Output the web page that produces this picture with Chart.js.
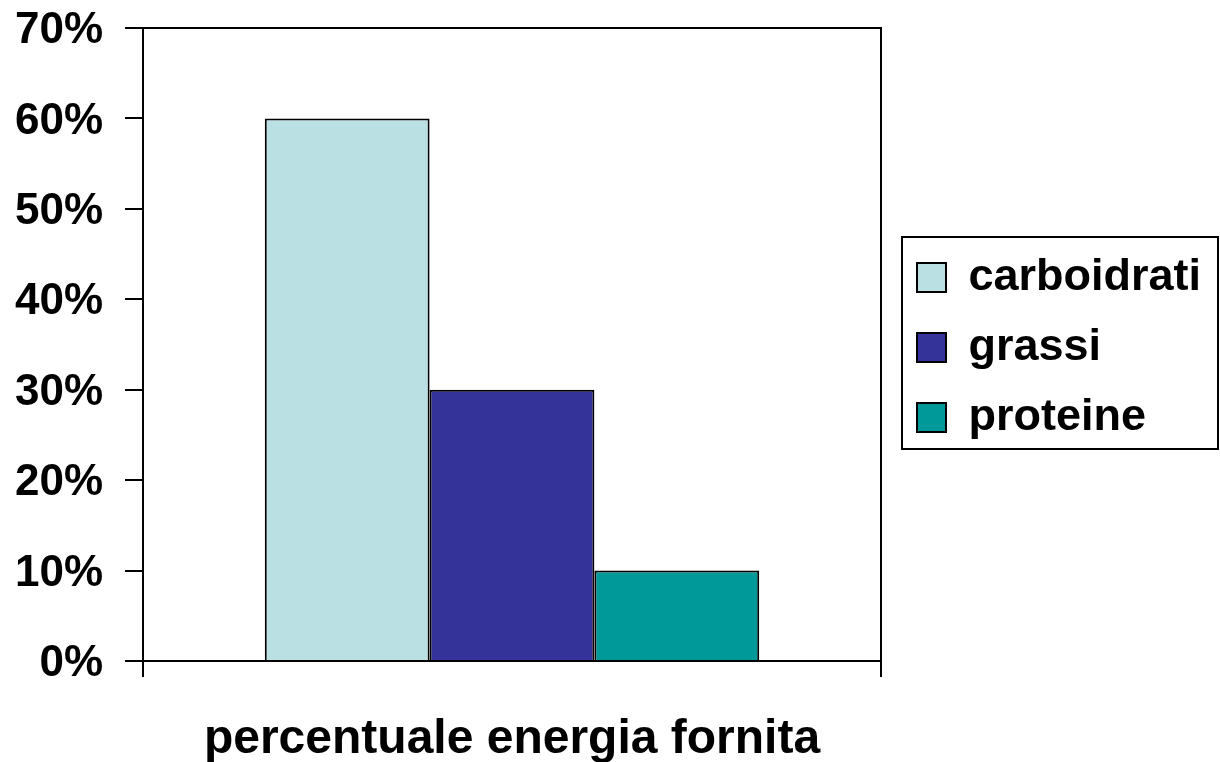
<!DOCTYPE html>
<html>
<head>
<meta charset="utf-8">
<script src="https://cdn.jsdelivr.net/npm/chart.js@4"></script>
<style>
  html, body { margin: 0; padding: 0; background: #fff; }
  #wrap { width: 1220px; height: 762px; }
</style>
</head>
<body>
<div id="wrap"><canvas id="energyChart" width="1220" height="762"></canvas></div>
<script>
const categories = ['percentuale energia fornita'];
const seriesNames = ['carboidrati', 'grassi', 'proteine'];
const seriesValues = [[60], [30], [10]];
const seriesColors = ['#BBE0E3', '#333399', '#009999'];
const yTicks = [0, 10, 20, 30, 40, 50, 60, 70];

const FONT = 'Arial, "Liberation Sans", sans-serif';
const LEGEND_DX = 11;
const LEGEND_DY = 3;

// the default side-box limit is too narrow for the big legend text
const legendWidth = {
    id: 'legendWidth',
    afterInit(chart) {
        const lg = chart.legend;
        const fit = lg.fit;
        lg.fit = function () {
            fit.call(this);
            this.width = 339;
        };
        const draw = lg.draw;
        lg.draw = function () {
            this.ctx.save();
            this.ctx.translate(LEGEND_DX, LEGEND_DY);
            draw.call(this);
            this.ctx.restore();
        };
    }
};

// plot frame (top + right) and the legend box
const framePlugin = {
    id: 'frames',
    afterDraw(chart) {
        const c = chart.ctx;
        const a = chart.chartArea;
        c.save();
        c.strokeStyle = '#000';
        c.lineWidth = 2;
        c.beginPath();
        c.moveTo(a.left - 18, a.top);
        c.lineTo(a.right, a.top);
        c.lineTo(a.right, a.bottom);
        c.stroke();

        const boxes = chart.legend.legendHitBoxes;
        if (boxes && boxes.length) {
            let x0 = Infinity, y0 = Infinity, y1 = -Infinity;
            boxes.forEach(b => {
                x0 = Math.min(x0, b.left);
                y0 = Math.min(y0, b.top);
                y1 = Math.max(y1, b.top + b.height);
            });
            const left = x0 + LEGEND_DX - 15;
            c.strokeRect(left, y0 - 15, 1218 - left, (y1 + 12) - (y0 - 15));
        }
        c.restore();
    }
};

new Chart(document.getElementById('energyChart').getContext('2d'), {
    type: 'bar',
    data: {
        labels: categories,
        datasets: seriesNames.map((name, i) => ({
            label: name,
            data: seriesValues[i],
            backgroundColor: seriesColors[i],
            borderColor: '#000',
            borderWidth: 2,
            categoryPercentage: 0.67,
            barPercentage: 1
        }))
    },
    options: {
        responsive: false,
        animation: false,
        layout: {
            padding: { left: 15, top: 0, right: 0, bottom: 0 }
        },
        plugins: {
            tooltip: { enabled: false },
            legend: {
                position: 'right',
                fullSize: false,
                labels: {
                    color: '#000',
                    font: { family: FONT, size: 45, weight: 'bold' },
                    boxWidth: 29,
                    boxHeight: 29,
                    padding: 25
                }
            }
        },
        scales: {
            x: {
                offset: true,
                afterFit(axis) {
                    axis.height = 101;
                },
                grid: {
                    offset: true,
                    drawOnChartArea: false,
                    drawTicks: true,
                    tickLength: 16,
                    color: '#000',
                    lineWidth: 2
                },
                border: { display: true, color: '#000', width: 2 },
                ticks: {
                    color: '#000',
                    padding: 42,
                    maxRotation: 0,
                    font: { family: FONT, size: 48, weight: 'bold', lineHeight: 0.85 }
                }
            },
            y: {
                min: 0,
                max: 70,
                afterBuildTicks(axis) {
                    axis.ticks = yTicks.map(v => ({ value: v }));
                },
                afterFit(axis) {
                    axis.width = 128;
                    axis.paddingTop = 28;
                    axis.paddingBottom = 28;
                },
                grid: {
                    drawOnChartArea: false,
                    drawTicks: true,
                    tickLength: 18,
                    color: '#000',
                    lineWidth: 2
                },
                border: { display: true, color: '#000', width: 2 },
                ticks: {
                    color: '#000',
                    padding: 22,
                    labelOffset: 3,
                    font: { family: FONT, size: 44, weight: 'bold' },
                    callback: v => v + '%'
                }
            }
        }
    },
    plugins: [legendWidth, framePlugin]
});
</script>
</body>
</html>
